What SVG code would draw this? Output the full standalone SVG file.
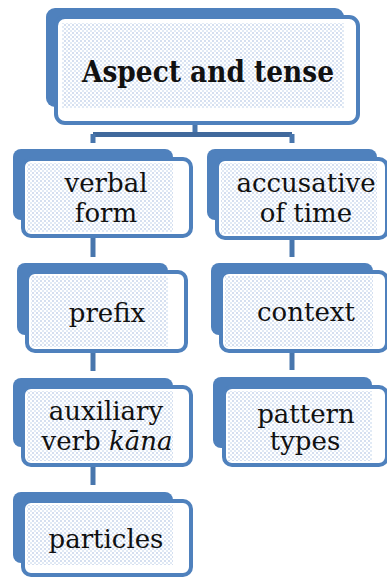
<svg xmlns="http://www.w3.org/2000/svg" width="387" height="578" viewBox="0 0 387 578">
  <defs>
    <pattern id="dots" width="4" height="4" patternUnits="userSpaceOnUse">
      <rect width="4" height="4" fill="#ffffff"/>
      <circle cx="1" cy="1" r="0.8" fill="#9fb8de"/>
      <circle cx="3" cy="3" r="0.8" fill="#bccfea"/>
    </pattern>
    <style>
      .back { fill: #4f81bd; }
      .front { fill: #ffffff; stroke: #4f81bd; stroke-width: 4; }
      .tex { fill: url(#dots); }
      .link { stroke: #4876ad; stroke-width: 5; fill: none; }
      .bar { stroke: #40699c; stroke-width: 5; fill: none; }
      .lbl { font-family: "DejaVu Serif", "Liberation Serif", serif; font-size: 26px; fill: #111111; text-anchor: middle; }
      .ttl { font-family: "DejaVu Serif", "Liberation Serif", serif; font-size: 30px; font-weight: bold; fill: #111111; text-anchor: middle; }
    </style>
  </defs>

  <g id="connectors">
    <line class="link" x1="195" y1="124" x2="195" y2="134.5"/>
    <line class="bar" x1="93" y1="134.5" x2="292" y2="134.5"/>
    <line class="link" x1="93" y1="134" x2="93" y2="143"/>
    <line class="link" x1="292" y1="134" x2="292" y2="143"/>
    <line class="link" x1="93" y1="238" x2="93" y2="257"/>
    <line class="link" x1="93" y1="353" x2="93" y2="371"/>
    <line class="link" x1="93" y1="467" x2="93" y2="485"/>
    <line class="link" x1="292" y1="240" x2="292" y2="257"/>
    <line class="link" x1="292" y1="353" x2="292" y2="370"/>
  </g>

  <g id="aspect-and-tense">
    <rect class="back" x="46" y="8" width="298" height="99" rx="9"/>
    <rect class="front" x="56" y="17" width="302" height="106" rx="9"/>
    <rect class="tex" x="62" y="23" width="282" height="85"/>
    <text class="ttl" x="208" y="82" textLength="252" lengthAdjust="spacingAndGlyphs">Aspect and tense</text>
  </g>

  <g id="verbal-form">
    <rect class="back" x="13" y="149" width="160" height="71" rx="8"/>
    <rect class="front" x="23" y="159" width="168" height="77" rx="8"/>
    <rect class="tex" x="27" y="163" width="146" height="69"/>
    <text class="lbl" x="106" y="192">verbal</text>
    <text class="lbl" x="106" y="222">form</text>
  </g>

  <g id="prefix">
    <rect class="back" x="17" y="263" width="151" height="72" rx="8"/>
    <rect class="front" x="27" y="272" width="159" height="79" rx="8"/>
    <rect class="tex" x="31" y="276" width="137" height="71"/>
    <text class="lbl" x="107" y="322">prefix</text>
  </g>

  <g id="auxiliary-verb">
    <rect class="back" x="13" y="378" width="160" height="69" rx="8"/>
    <rect class="front" x="23" y="387" width="168" height="78" rx="8"/>
    <rect class="tex" x="27" y="391" width="146" height="70"/>
    <text class="lbl" x="106" y="420">auxiliary</text>
    <text class="lbl" x="107" y="450">verb <tspan font-style="italic">kāna</tspan></text>
  </g>

  <g id="particles">
    <rect class="back" x="13" y="492" width="160" height="71" rx="8"/>
    <rect class="front" x="23" y="501" width="168" height="74" rx="8"/>
    <rect class="tex" x="27" y="505" width="146" height="60"/>
    <text class="lbl" x="106" y="548">particles</text>
  </g>

  <g id="accusative-of-time">
    <rect class="back" x="207" y="149" width="170" height="71" rx="8"/>
    <rect class="front" x="217" y="159" width="170" height="79" rx="8"/>
    <rect class="tex" x="221" y="163" width="156" height="71"/>
    <text class="lbl" x="306" y="192">accusative</text>
    <text class="lbl" x="306" y="222">of time</text>
  </g>

  <g id="context">
    <rect class="back" x="211" y="263" width="162" height="72" rx="8"/>
    <rect class="front" x="221" y="272" width="166" height="79" rx="8"/>
    <rect class="tex" x="225" y="276" width="148" height="71"/>
    <text class="lbl" x="306" y="321">context</text>
  </g>

  <g id="pattern-types">
    <rect class="back" x="213" y="377" width="159" height="71" rx="8"/>
    <rect class="front" x="224" y="387" width="163" height="78" rx="8"/>
    <rect class="tex" x="228" y="391" width="144" height="70"/>
    <text class="lbl" x="306" y="423">pattern</text>
    <text class="lbl" x="305" y="450">types</text>
  </g>
</svg>
